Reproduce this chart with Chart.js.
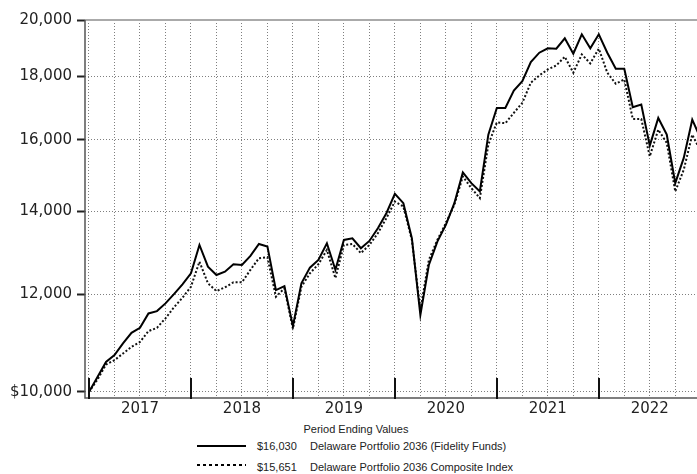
<!DOCTYPE html>
<html lang="en">
<head>
    <meta charset="UTF-8">
    <title>Delaware Portfolio 2036 - Period Ending Values</title>
    <script src="https://cdn.jsdelivr.net/npm/chart.js"></script>
    <style>
        body {
            margin: 0;
            background: #fff;
            overflow: hidden;
            width: 697px;
            height: 474px;
            position: relative;
        }

        #chart-wrap {
            position: absolute;
            left: 0;
            top: 0;
            width: 705px;
            height: 420px;
        }

        .legend-title {
            position: absolute;
            left: 0;
            width: 712px;
            top: 423px;
            text-align: center;
            font: 11px 'Liberation Sans', Arial, sans-serif;
            color: #222;
        }

        .legend-row {
            position: absolute;
            left: 196px;
            height: 14px;
            font: 11px 'Liberation Sans', Arial, sans-serif;
            color: #222;
            white-space: nowrap;
        }

        .legend-row svg {
            position: absolute;
            left: 0;
            top: 0;
        }

        .legend-row .amt {
            position: absolute;
            left: 61px;
            top: 0;
        }

        .legend-row .name {
            position: absolute;
            left: 114px;
            top: 0;
        }
    </style>
</head>
<body>
    <div id="chart-wrap">
        <canvas id="growthChart" width="705" height="420"></canvas>
    </div>

    <div class="legend-title">Period Ending Values</div>
    <div class="legend-row" style="top:440px;">
        <svg width="52" height="14"><line x1="1" y1="6" x2="50" y2="6" stroke="#000" stroke-width="2"/></svg>
        <span class="amt">$16,030</span>
        <span class="name">Delaware Portfolio 2036 (Fidelity Funds)</span>
    </div>
    <div class="legend-row" style="top:461px;">
        <svg width="52" height="14"><line x1="1" y1="4" x2="50" y2="4" stroke="#000" stroke-width="2" stroke-dasharray="3,3"/></svg>
        <span class="amt">$15,651</span>
        <span class="name">Delaware Portfolio 2036 Composite Index</span>
    </div>

    <script>
        // monthly values, Dec 2016 .. Dec 2022 (index 0 = start, $10,000)
        const fundValues = [
            10000, 10284, 10576, 10710, 10946, 11165, 11270, 11576, 11626, 11794, 12001, 12220,
            12475, 13151, 12630, 12435, 12513, 12687, 12670, 12886, 13176, 13110, 12090, 12181,
            11305, 12244, 12607, 12790, 13193, 12555, 13275, 13317, 13071, 13250, 13568, 13953,
            14467, 14217, 13317, 11540, 12670, 13233, 13653, 14217, 15054, 14758, 14530, 16153,
            16977, 16977, 17539, 17846, 18491, 18818, 18970, 18960, 19328, 18783, 19473, 18970,
            19473, 18818, 18264, 18264, 16997, 17083, 15826, 16663, 16153, 14758, 15467, 16610,
            16030
        ];

        const indexValues = [
            10000, 10234, 10525, 10610, 10743, 10877, 10978, 11200, 11270, 11470, 11708, 11919,
            12166, 12748, 12244, 12068, 12152, 12267, 12267, 12555, 12831, 12855, 11942, 12130,
            11250, 12166, 12475, 12687, 13030, 12362, 13151, 13176, 12954, 13151, 13442, 13823,
            14260, 14127, 13275, 11649, 12790, 13275, 13696, 14172, 14942, 14621, 14351, 15855,
            16527, 16500, 16820, 17140, 17793, 18037, 18240, 18377, 18677, 18129, 18758, 18447,
            18959, 18129, 17760, 17903, 16632, 16632, 15513, 16303, 15905, 14530, 15130, 16153,
            15651
        ];

        const yearLabels = ['2017', '2018', '2019', '2020', '2021', '2022'];
        const yTicks = [10000, 12000, 14000, 16000, 18000, 20000];

        const toPoints = arr => arr.map((v, i) => ({ x: i, y: v }));

        // axis lines, top frame line and tall year separators
        const framePlugin = {
            id: 'frame',
            afterDraw(chart) {
                const { ctx, chartArea, scales } = chart;
                ctx.save();
                ctx.setLineDash([]);

                ctx.strokeStyle = '#aaa';
                ctx.lineWidth = 2;
                ctx.beginPath();
                ctx.moveTo(chartArea.left, chartArea.top);
                ctx.lineTo(chartArea.right, chartArea.top);
                ctx.stroke();

                ctx.strokeStyle = '#555';
                ctx.lineWidth = 1.5;
                ctx.beginPath();
                ctx.moveTo(chartArea.left, chartArea.top);
                ctx.lineTo(chartArea.left, chartArea.bottom);
                ctx.lineTo(chartArea.right, chartArea.bottom);
                ctx.stroke();

                ctx.strokeStyle = '#111';
                ctx.lineWidth = 2;
                for (let m = 0; m <= 72; m += 12) {
                    const x = Math.round(scales.x.getPixelForValue(m));
                    ctx.beginPath();
                    ctx.moveTo(x, chartArea.bottom - 20);
                    ctx.lineTo(x, chartArea.bottom + 1);
                    ctx.stroke();
                }
                ctx.restore();
            }
        };

        const gridColor = 'rgba(0,0,0,0.5)';

        new Chart(document.getElementById('growthChart'), {
            type: 'line',
            data: {
                datasets: [
                    {
                        label: 'Delaware Portfolio 2036 (Fidelity Funds)',
                        data: toPoints(fundValues),
                        borderColor: '#000',
                        borderWidth: 2,
                        pointRadius: 0,
                        tension: 0
                    },
                    {
                        label: 'Delaware Portfolio 2036 Composite Index',
                        data: toPoints(indexValues),
                        borderColor: '#111',
                        borderWidth: 2,
                        borderDash: [2, 2],
                        pointRadius: 0,
                        tension: 0
                    }
                ]
            },
            options: {
                responsive: false,
                animation: false,
                layout: { padding: { top: 20, left: 0, right: 0, bottom: 0 } },
                plugins: {
                    legend: { display: false },
                    tooltip: { enabled: false }
                },
                scales: {
                    x: {
                        type: 'linear',
                        min: -0.47,
                        max: 72.5,
                        afterBuildTicks: scale => {
                            const t = [];
                            for (let m = 0; m <= 72; m += 3) t.push({ value: m });
                            scale.ticks = t;
                        },
                        afterFit: scale => { scale.height = 22; },
                        grid: {
                            color: gridColor,
                            lineWidth: 1,
                            drawTicks: false
                        },
                        border: { display: false, dash: [1, 2] },
                        ticks: {
                            autoSkip: false,
                            maxRotation: 0,
                            padding: 2,
                            color: '#222',
                            font: { family: 'DejaVu Sans', size: 15 },
                            callback: value => (value % 12 === 6 ? yearLabels[(value - 6) / 12] : '')
                        }
                    },
                    y: {
                        type: 'logarithmic',
                        min: 9888,
                        max: 20000,
                        afterBuildTicks: scale => {
                            scale.ticks = yTicks.map(v => ({ value: v }));
                        },
                        afterFit: scale => { scale.width = 85; },
                        grid: {
                            color: gridColor,
                            lineWidth: 1,
                            tickLength: 8,
                            tickColor: '#222',
                            tickWidth: 2,
                            tickBorderDash: []
                        },
                        border: { display: false, dash: [1, 2] },
                        ticks: {
                            padding: 5,
                            color: '#222',
                            font: { family: 'DejaVu Sans', size: 15 },
                            callback: value => (value === 10000 ? '$10,000' : value.toLocaleString('en-US'))
                        }
                    }
                }
            },
            plugins: [framePlugin]
        });
    </script>
</body>
</html>
